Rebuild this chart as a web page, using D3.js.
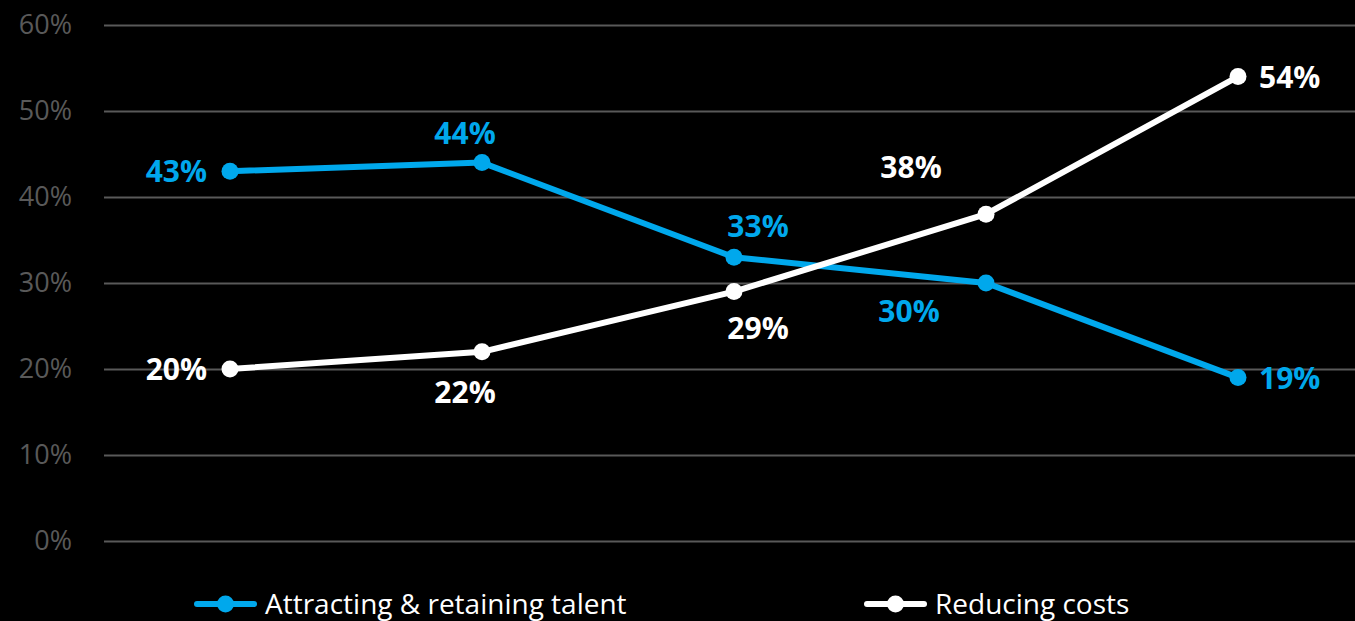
<!DOCTYPE html>
<html><head><meta charset="utf-8">
<script src="https://cdn.jsdelivr.net/npm/d3@7"></script>
<style>html,body{margin:0;padding:0;background:#000;}svg{display:block;}</style>
</head><body>
<script>
const categories = ["P1","P2","P3","P4","P5"];
const talent = [43, 44, 33, 30, 19];
const costs = [20, 22, 29, 38, 54];
const yTicks = [0,10,20,30,40,50,60];
const seriesNames = ["Attracting & retaining talent","Reducing costs"];
const talentLabelPos = ["left","above-l","above-r","below-far","right"];
const costsLabelPos = ["left","below-l","below-r","above-far","right"];

const W = 1355, H = 621;
const font = "'Open Sans','Noto Sans',sans-serif";
const svg = d3.select("body").append("svg").attr("width", W).attr("height", H).style("background","#000");

const x = d3.scalePoint().domain(categories).range([230, 1238]);
const y = d3.scaleLinear().domain([0, 60]).range([541, 25]);

const yAxis = d3.axisLeft(y).tickValues(yTicks).tickFormat(d => d + "%").tickSize(-(W - 104)).tickPadding(32);
const g = svg.append("g").attr("transform", "translate(104,0)").call(yAxis);
g.select(".domain").remove();
g.selectAll(".tick line").attr("stroke", "#595959").attr("stroke-width", 2);
g.selectAll(".tick text").attr("fill", "#595959").style("font-family", font).style("font-size", "27px");

const colors = ["#00A8EC", "#FFFFFF"];
const line = d3.line().x((d,i) => x(categories[i])).y(d => y(d));

function offset(pos){
  switch(pos){
    case "left": return {dx:-23, dy:11, anchor:"end"};
    case "right": return {dx:21, dy:11, anchor:"start"};
    case "above-l": return {dx:-17, dy:-19, anchor:"middle"};
    case "above-r": return {dx:24, dy:-20, anchor:"middle"};
    case "below-l": return {dx:-17, dy:51, anchor:"middle"};
    case "below-r": return {dx:24, dy:47, anchor:"middle"};
    case "below-far": return {dx:-77, dy:39, anchor:"middle"};
    case "above-far": return {dx:-75, dy:-36, anchor:"middle"};
  }
}

[[talent, talentLabelPos], [costs, costsLabelPos]].forEach(([vals, poss], si) => {
  svg.append("path").datum(vals).attr("d", line).attr("fill","none")
    .attr("stroke", colors[si]).attr("stroke-width", 6).attr("stroke-linejoin","round");
  svg.selectAll(null).data(vals).enter().append("circle")
    .attr("cx", (d,i) => x(categories[i])).attr("cy", d => y(d)).attr("r", 8.5).attr("fill", colors[si]);
  svg.selectAll(null).data(vals).enter().append("text")
    .attr("x", (d,i) => x(categories[i]) + offset(poss[i]).dx)
    .attr("y", (d,i) => y(d) + offset(poss[i]).dy)
    .attr("text-anchor", (d,i) => offset(poss[i]).anchor)
    .attr("fill", colors[si]).style("font-family", font).style("font-weight", "bold").style("font-size", "30px")
    .text(d => d + "%");
});

// legend
const legX = [197, 867];
seriesNames.forEach((n, i) => {
  const lg = svg.append("g").attr("transform", `translate(${legX[i]},604)`);
  lg.append("line").attr("x1",0).attr("x2",57).attr("y1",0).attr("y2",0).attr("stroke",colors[i]).attr("stroke-width",6).attr("stroke-linecap","round");
  lg.append("circle").attr("cx",28.5).attr("cy",0).attr("r",8.5).attr("fill",colors[i]);
  lg.append("text").attr("x",68).attr("y",10).attr("fill","#fff").style("font-family",font).style("font-size","28px").text(n);
});
</script>
</body></html>
